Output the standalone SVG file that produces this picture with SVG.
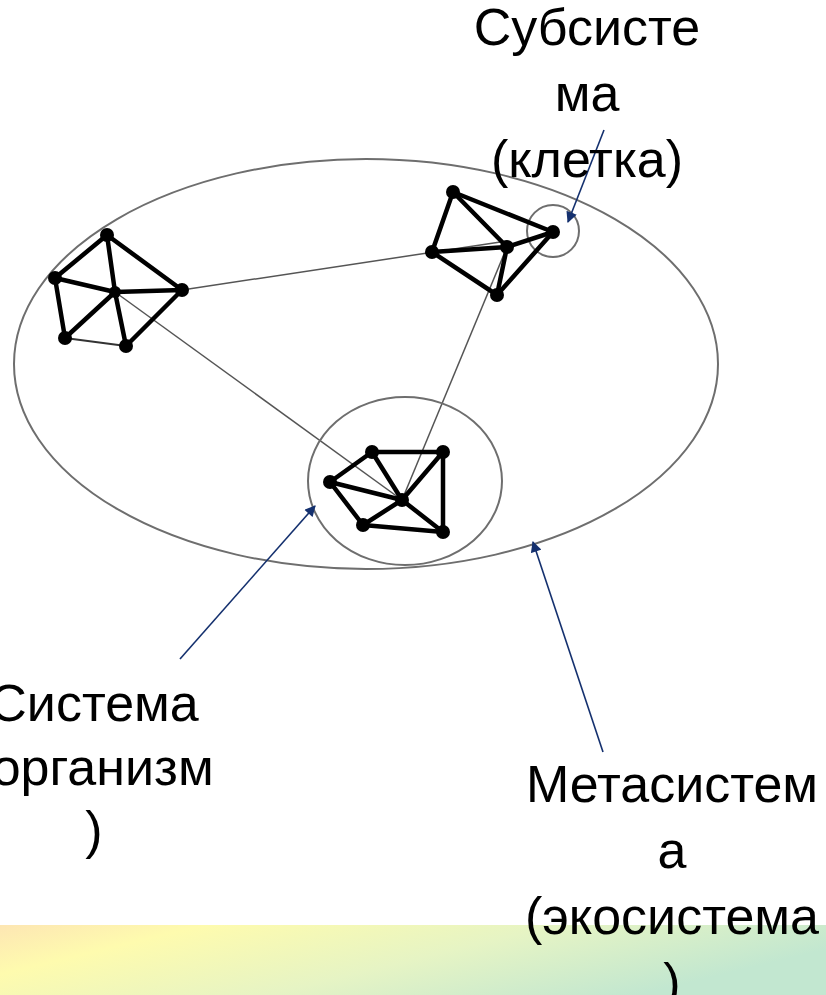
<svg xmlns="http://www.w3.org/2000/svg" width="826" height="995" viewBox="0 0 826 995">
  <style>
    .label { font-family: "Liberation Sans", Arial, sans-serif; font-size: 52px; fill: #000; text-anchor: middle; }
    .outline { fill: none; stroke: #6e6e6e; stroke-width: 2; }
    .edge { stroke: #000; stroke-width: 4.5; stroke-linecap: round; }
    .link { stroke: #555; stroke-width: 1.5; }
    .thin { stroke: #333; stroke-width: 2; }
    .dot { fill: #000; }
    .pointer { stroke: #14306e; stroke-width: 1.6; fill: none; marker-end: url(#head); }
  </style>
  <defs>
    <marker id="head" viewBox="0 0 10 10" refX="9" refY="5" markerWidth="12" markerHeight="11" markerUnits="userSpaceOnUse" orient="auto">
      <path d="M0,0 L10,5 L0,10 z" fill="#14306e"/>
    </marker>
    <linearGradient id="band" x1="0" y1="0" x2="1" y2="0.35">
      <stop offset="0" stop-color="#fde6b3"/>
      <stop offset="0.22" stop-color="#fefbae"/>
      <stop offset="0.6" stop-color="#e6f4c4"/>
      <stop offset="1" stop-color="#c2e7d0"/>
    </linearGradient>
  </defs>

  <rect width="826" height="995" fill="#fff"/>
  <rect x="0" y="925" width="826" height="70" fill="url(#band)"/>

  <!-- metasystem boundary -->
  <ellipse id="metasystem" class="outline" cx="366" cy="364" rx="352" ry="205"/>

  <!-- thin links between organisms -->
  <g id="connectors">
    <line class="link" x1="182" y1="290" x2="507" y2="241"/>
    <line class="link" x1="115" y1="292" x2="402" y2="500"/>
    <line class="link" x1="507" y1="247" x2="402" y2="500"/>
  </g>

  <!-- organism on the left -->
  <g id="organism-left">
    <line class="edge" x1="107" y1="235" x2="55" y2="278"/>
    <line class="edge" x1="107" y1="235" x2="115" y2="292"/>
    <line class="edge" x1="107" y1="235" x2="182" y2="290"/>
    <line class="edge" x1="55" y1="278" x2="115" y2="292"/>
    <line class="edge" x1="115" y1="292" x2="182" y2="290"/>
    <line class="edge" x1="55" y1="278" x2="65" y2="338"/>
    <line class="edge" x1="115" y1="292" x2="65" y2="338"/>
    <line class="edge" x1="115" y1="292" x2="126" y2="346"/>
    <line class="edge" x1="182" y1="290" x2="126" y2="346"/>
    <line class="thin" x1="65" y1="338" x2="126" y2="346"/>
    <circle class="dot" cx="107" cy="235" r="7"/>
    <circle class="dot" cx="55" cy="278" r="7"/>
    <circle class="dot" cx="115" cy="292" r="6"/>
    <circle class="dot" cx="182" cy="290" r="7"/>
    <circle class="dot" cx="65" cy="338" r="7"/>
    <circle class="dot" cx="126" cy="346" r="7"/>
  </g>

  <!-- organism on the upper right, with its cell -->
  <g id="organism-right">
    <circle id="cell" class="outline" cx="553" cy="231" r="26"/>
    <line class="edge" x1="453" y1="192" x2="553" y2="232"/>
    <line class="edge" x1="453" y1="192" x2="507" y2="247"/>
    <line class="edge" x1="453" y1="192" x2="432" y2="252"/>
    <line class="edge" x1="432" y1="252" x2="507" y2="247"/>
    <line class="edge" x1="432" y1="252" x2="497" y2="295"/>
    <line class="edge" x1="507" y1="247" x2="553" y2="232"/>
    <line class="edge" x1="507" y1="247" x2="497" y2="295"/>
    <line class="edge" x1="553" y1="232" x2="497" y2="295"/>
    <circle class="dot" cx="453" cy="192" r="7"/>
    <circle class="dot" cx="432" cy="252" r="7"/>
    <circle class="dot" cx="507" cy="247" r="7"/>
    <circle class="dot" cx="553" cy="232" r="7"/>
    <circle class="dot" cx="497" cy="295" r="7"/>
  </g>

  <!-- organism at the bottom -->
  <g id="organism-bottom">
    <ellipse class="outline" cx="405" cy="481" rx="97" ry="84"/>
    <line class="edge" x1="372" y1="452" x2="443" y2="452"/>
    <line class="edge" x1="372" y1="452" x2="330" y2="482"/>
    <line class="edge" x1="372" y1="452" x2="402" y2="500"/>
    <line class="edge" x1="443" y1="452" x2="402" y2="500"/>
    <line class="edge" x1="443" y1="452" x2="443" y2="532"/>
    <line class="edge" x1="330" y1="482" x2="402" y2="500"/>
    <line class="edge" x1="330" y1="482" x2="363" y2="525"/>
    <line class="edge" x1="363" y1="525" x2="402" y2="500"/>
    <line class="edge" x1="363" y1="525" x2="443" y2="532"/>
    <line class="edge" x1="402" y1="500" x2="443" y2="532"/>
    <circle class="dot" cx="372" cy="452" r="7"/>
    <circle class="dot" cx="443" cy="452" r="7"/>
    <circle class="dot" cx="330" cy="482" r="7"/>
    <circle class="dot" cx="402" cy="500" r="7"/>
    <circle class="dot" cx="363" cy="525" r="7"/>
    <circle class="dot" cx="443" cy="532" r="7"/>
  </g>

  <!-- label pointers -->
  <g id="pointers">
    <line class="pointer" x1="604" y1="130" x2="568" y2="222"/>
    <line class="pointer" x1="180" y1="659" x2="315" y2="506"/>
    <line class="pointer" x1="603" y1="752" x2="533" y2="542"/>
  </g>

  <g id="label-subsystem">
    <text class="label" x="587" y="45">Субсисте</text>
    <text class="label" x="587" y="111">ма</text>
    <text class="label" x="587" y="177">(клетка)</text>
  </g>
  <g id="label-system">
    <text class="label" x="94" y="721">Система</text>
    <text class="label" x="94" y="785">(организм</text>
    <text class="label" x="94" y="848">)</text>
  </g>
  <g id="label-metasystem">
    <text class="label" x="672" y="802">Метасистем</text>
    <text class="label" x="672" y="868">а</text>
    <text class="label" x="672" y="934">(экосистема</text>
    <text class="label" x="672" y="1000">)</text>
  </g>
</svg>
